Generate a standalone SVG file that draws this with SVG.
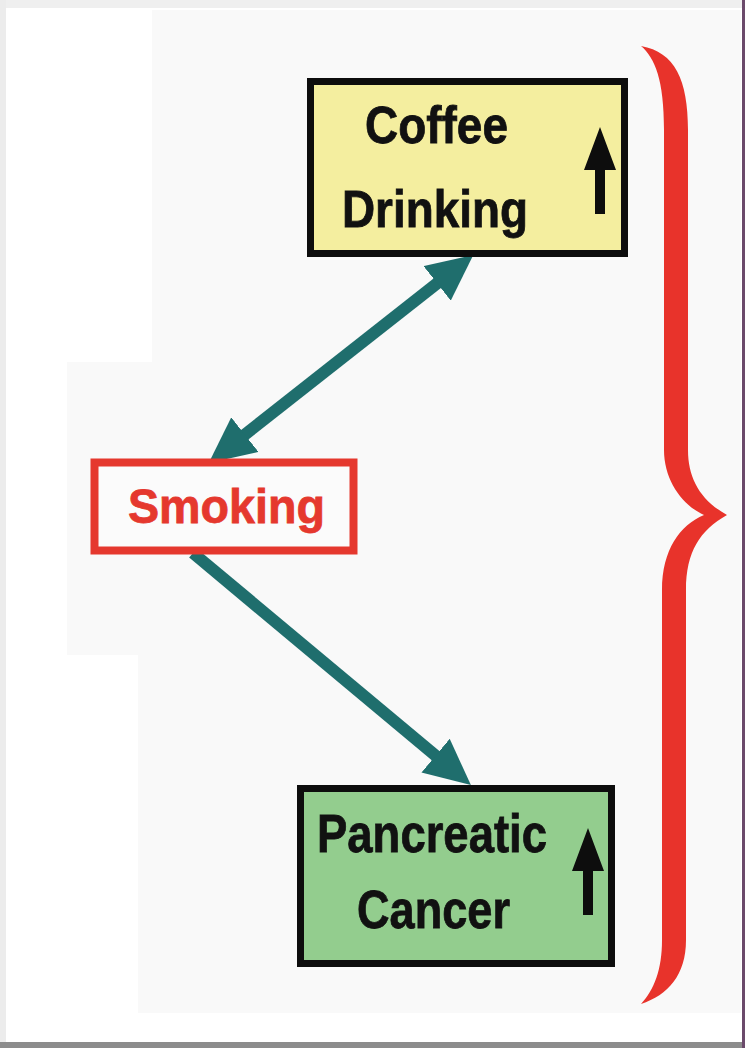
<svg xmlns="http://www.w3.org/2000/svg" width="745" height="1048" viewBox="0 0 745 1048">
  <style>
    .lbl { font-family: "Liberation Sans", Arial, sans-serif; font-weight: bold; text-anchor: middle; stroke-width: 0.8; }
    .dark { fill: #111111; stroke: #111111; }
    .red { fill: #e5382e; stroke: #e5382e; }
    .conn { stroke: #1f6e6d; stroke-width: 12; fill: none; }
  </style>
  <defs>
    <marker id="head" markerUnits="userSpaceOnUse" markerWidth="46" markerHeight="44" refX="24" refY="22" orient="auto-start-reverse" viewBox="0 0 46 44">
      <path d="M0,0 L46,22 L0,44 Z" fill="#1f6e6d"/>
    </marker>
    <path id="up" d="M0,0 L16,43 L5,43 L5,87 L-5,87 L-5,43 L-16,43 Z" fill="#0d0d0d"/>
  </defs>

  <!-- background / frame -->
  <rect x="0" y="0" width="745" height="1048" fill="#ffffff"/>
  <rect x="0" y="0" width="745" height="8" fill="#efefef"/>
  <rect x="0" y="0" width="6" height="1048" fill="#ececec"/>
  <polygon points="152,10 741,10 741,1013 138,1013 138,655 67,655 67,362 152,362" fill="#f9f9f9"/>
  <rect x="0" y="1042" width="745" height="6" fill="#8c8c8c"/>
  <rect x="742" y="0" width="3" height="1048" fill="#6b4a6b"/>

  <!-- brace -->
  <path d="M641,46 C675,52 688,80 688,130 L688,450 C688,478 700,500 727,515 C700,530 686,552 686,590 L686,940 C686,975 668,995 641,1004 C654,990 662,970 662,940 L662,590 C662,550 680,525 704,515 C682,505 664,480 664,450 L664,130 C664,80 655,58 641,46 Z" fill="#e8332b"/>

  <g id="connectors">
    <line class="conn" x1="456" y1="268.5" x2="226" y2="449.5" marker-start="url(#head)" marker-end="url(#head)"/>
    <line class="conn" x1="193" y1="553" x2="454" y2="771" marker-end="url(#head)"/>
  </g>

  <g id="coffee">
    <rect x="310.5" y="81.5" width="314" height="172" fill="#f4ee9f" stroke="#0d0d0d" stroke-width="7"/>
    <text class="lbl dark" x="436.5" y="143" font-size="52" textLength="143" lengthAdjust="spacingAndGlyphs">Coffee</text>
    <text class="lbl dark" x="435" y="227" font-size="52" textLength="186" lengthAdjust="spacingAndGlyphs">Drinking</text>
    <use href="#up" x="600" y="127"/>
  </g>

  <g id="smoking">
    <rect x="94.5" y="462.5" width="259" height="88" fill="#fbfbfb" stroke="#e5382e" stroke-width="8"/>
    <text class="lbl red" x="226.5" y="523" font-size="49" textLength="197" lengthAdjust="spacingAndGlyphs">Smoking</text>
  </g>

  <g id="pancreatic">
    <rect x="300.5" y="788.5" width="311" height="175" fill="#93cd8e" stroke="#0d0d0d" stroke-width="7"/>
    <text class="lbl dark" x="432" y="852" font-size="53" textLength="230" lengthAdjust="spacingAndGlyphs">Pancreatic</text>
    <text class="lbl dark" x="433.5" y="928" font-size="53" textLength="153" lengthAdjust="spacingAndGlyphs">Cancer</text>
    <use href="#up" x="588" y="828"/>
  </g>
</svg>
